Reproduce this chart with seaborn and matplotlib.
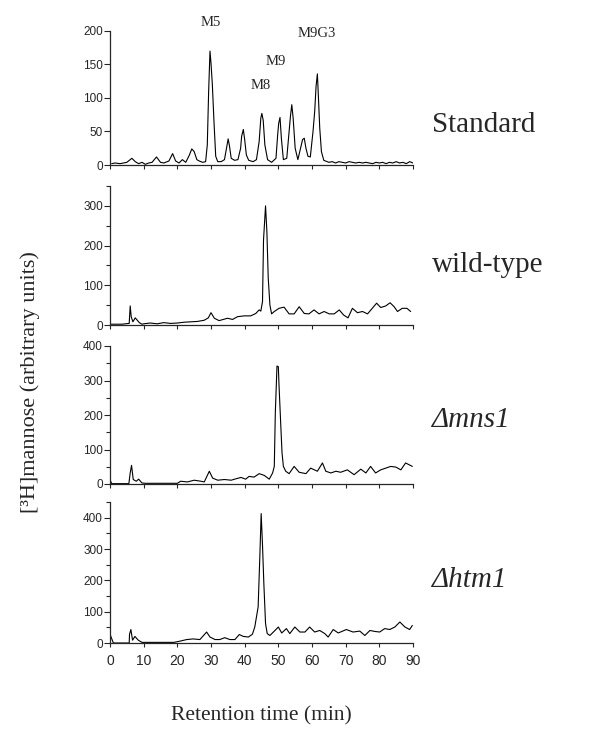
import pandas as pd
import seaborn as sns
import matplotlib.pyplot as plt

# retention time (min) / signal
std_time = [0.5, 1.5, 3, 5, 6.5, 7.5, 8.5, 9.5, 10.5, 11.5, 12.5, 13.8, 15, 16, 17.5, 18.6,
            19.5, 20.5, 21.5, 22.5, 23.5, 24.3, 25, 25.8, 26.5, 27.5, 28.4, 28.9, 29.3, 29.7,
            30.0, 30.4, 30.9, 31.4, 32, 33, 34, 34.6, 35.1, 35.5, 36, 37, 38, 38.8, 39.1, 39.6,
            40, 40.5, 41.2, 42.5, 43.5, 44.3, 44.8, 45.1, 45.5, 46, 46.8, 48, 49.3, 49.8, 50.1,
            50.5, 50.9, 51.5, 52.5, 53.2, 53.6, 54.0, 54.4, 55, 55.8, 56.6, 57.2, 57.7, 58.2,
            58.8, 59.5, 60.3, 60.8, 61.2, 61.6, 61.9, 62.3, 62.8, 63.5, 64, 65, 66, 67, 68, 69,
            70, 71, 72, 73, 74, 75, 76, 77, 78, 79, 80, 81, 82, 83, 84, 85, 86, 87, 88, 89, 90]
std_signal = [2, 3, 2, 4, 10, 5, 2, 4, 1, 3, 4, 12, 4, 3, 6, 17,
              6, 3, 8, 4, 14, 24, 20, 8, 6, 4, 5, 30, 110, 170,
              152, 120, 63, 13, 5, 5, 8, 25, 39, 28, 10, 7, 8, 25, 43, 53,
              38, 15, 7, 5, 8, 35, 70, 77, 67, 30, 8, 4, 10, 45, 62,
              71, 40, 8, 10, 50, 73, 90, 70, 25, 8, 25, 38, 40, 25,
              13, 12, 50, 80, 117, 136, 102, 55, 20, 7, 6, 4, 5, 3, 5, 4,
              3, 5, 4, 3, 4, 3, 4, 3, 2, 4, 3, 4, 2, 4, 3, 5, 3, 4, 2, 5, 3]

wt_time = [0, 0.1, 3.5, 5.7, 6.0, 6.3, 6.8, 7.5, 8.7, 9.5, 10, 12, 14, 16, 18, 20, 22, 24,
           26, 28, 29.2, 30, 31, 32.4, 34.9, 36.4, 37.9, 39.9, 41.8, 43.3, 44.3, 44.8, 45.3,
           45.6, 46.2, 46.6, 47.0, 47.5, 48.0, 48.8, 50.2, 51.7, 53.2, 54.7, 56.2, 57.7, 59.1,
           60.6, 62.1, 63.6, 65.1, 66.6, 68.1, 69.4, 70.7, 72.0, 73.5, 75.0, 76.5, 77.9, 79.2,
           80.4, 81.9, 83.2, 84.4, 85.4, 86.8, 88.2, 89.3]
wt_signal = [174, 2, 2, 4, 48, 21, 8, 18, 6, 2, 3, 5, 3, 6, 4, 5, 7, 8,
             9, 12, 18, 31, 17, 11, 17, 14, 21, 23, 23, 29, 38, 35, 59,
             214, 300, 235, 118, 50, 28, 34, 42, 45, 28, 28, 46, 29, 28,
             38, 28, 34, 28, 28, 38, 25, 18, 42, 31, 34, 28, 42, 55,
             44, 48, 56, 46, 34, 42, 42, 34]

mns_time = [0, 0.5, 5.6, 6.0, 6.4, 6.9, 7.8, 8.5, 9.5, 10.5, 12, 14, 16, 18, 20, 21, 23,
            25, 27, 28, 29.5, 30.5, 32, 34, 36, 37, 38.9, 40.3, 41.3, 42.8, 44.3, 45.8, 47.3,
            48.3, 48.8, 49.1, 49.6, 50.0, 50.2, 50.7, 51.1, 51.5, 52.2, 53.2, 54.7, 56.2, 58.2,
            59.6, 61.6, 63.1, 64.1, 65.6, 67.1, 68.5, 70.5, 72.5, 74.5, 76.0, 77.4, 78.9, 80.4,
            81.9, 83.4, 84.9, 86.4, 87.8, 88.8, 89.8]
mns_signal = [12, 1, 1, 32, 54, 13, 8, 14, 3, 2, 2, 2, 2, 2, 2, 8, 6,
              11, 8, 6, 37, 17, 11, 13, 11, 14, 19, 14, 22, 20, 30, 25, 14,
              32, 51, 205, 342, 340, 287, 176, 90, 51, 37, 30, 51, 34, 30,
              46, 37, 61, 37, 32, 37, 34, 41, 27, 43, 32, 51, 32, 41,
              46, 51, 49, 41, 61, 56, 51]

htm_time = [0, 0.5, 1.0, 5.7, 5.8, 6.2, 6.7, 7.4, 8.4, 9.5, 11, 13, 15, 17, 19, 20.8, 22.8,
            24.7, 26.7, 28.7, 29.7, 31.2, 32.6, 34.1, 35.6, 37.1, 38.4, 39.6, 41.1, 42.3, 43.0,
            44.0, 44.5, 44.9, 45.3, 45.7, 46.2, 46.7, 47.5, 49.0, 50.0, 51.0, 52.4, 53.4, 54.9,
            56.4, 57.9, 59.3, 60.8, 62.3, 63.8, 64.8, 66.3, 67.8, 70.2, 72.2, 74.2, 75.7, 77.2,
            78.6, 80.1, 81.6, 83.1, 84.6, 86.1, 87.6, 89.0, 89.8]
htm_signal = [28, 14, 0, 0, 28, 43, 9, 21, 9, 2, 2, 2, 2, 2, 2, 6, 11,
              13, 11, 35, 19, 11, 11, 17, 11, 11, 27, 21, 19, 28, 51,
              115, 274, 413, 312, 189, 62, 30, 24, 40, 51, 32, 46, 30, 51,
              35, 35, 51, 35, 40, 30, 19, 43, 32, 43, 35, 38, 24, 40,
              37, 35, 46, 43, 51, 67, 51, 43, 56]

panel_names = ["Standard", "wild-type", "\u0394mns1", "\u0394htm1"]
peak_labels = ["M5", "M8", "M9", "M9G3"]

sns.set_style("ticks")
plt.rcParams['font.family'] = ['Liberation Serif', 'DejaVu Serif']
plt.rcParams['axes.linewidth'] = 0.9

fig = plt.figure(figsize=(5.93, 7.37), dpi=100)

# axes boxes in pixels: (bottom px, top px, y max, major, minor)
boxes = [(165, 31, 200, 50, None),
         (325, 186, 350, 100, 50),
         (484, 346, 400, 100, 50),
         (643, 502, 450, 100, 50)]
traces = [(std_time, std_signal), (wt_time, wt_signal),
          (mns_time, mns_signal), (htm_time, htm_signal)]

axes = []
for i, ((bot, top, ymax, major, minor), (t, s)) in enumerate(zip(boxes, traces)):
    ax = fig.add_axes([110 / 593, 1 - bot / 737, 303 / 593, (bot - top) / 737])
    df = pd.DataFrame({"time": t, "signal": s})
    sns.lineplot(data=df, x="time", y="signal", ax=ax, color="black",
                 linewidth=0.8, estimator=None)
    ax.set_xlim(0, 90)
    ax.set_ylim(0, ymax)
    ax.set_xticks(range(0, 91, 10))
    yt = list(range(0, ymax + 1, major))
    if ymax == 450:
        yt = list(range(0, 401, major))
    ax.set_yticks(yt)
    if minor:
        ax.set_yticks(list(range(0, ymax + 1, minor)), minor=True)
    ax.tick_params(axis="y", direction="out", length=4, width=0.8, labelsize=8.5, pad=1)
    ax.tick_params(axis="y", which="minor", length=3, width=0.8)
    ax.tick_params(axis="x", direction="out", length=3, width=0.8, labelsize=10, pad=5)
    for lab in ax.get_yticklabels() + ax.get_xticklabels():
        lab.set_family("Liberation Sans")
    if i < 3:
        ax.set_xticklabels([])
    ax.set_xlabel("")
    ax.set_ylabel("")
    sns.despine(ax=ax)
    ax.spines["left"].set_bounds(0, ymax)
    axes.append(ax)

# peak labels on the standard trace
top_ax = axes[0]
for lab, (x, y) in zip(peak_labels, [(30, 213), (44.7, 118), (49.3, 155), (61.5, 196)]):
    top_ax.text(x, y, lab, ha="center", va="center", fontsize=10.5, clip_on=False)

# sample names on the right
fig.text(432 / 593, 1 - 125 / 737, panel_names[0], fontsize=21, va="center", ha="left")
fig.text(432 / 593, 1 - 265 / 737, panel_names[1], fontsize=21, va="center", ha="left")
fig.text(432 / 593, 1 - 420 / 737, panel_names[2], fontsize=21, va="center", ha="left",
         style="italic")
fig.text(432 / 593, 1 - 580 / 737, panel_names[3], fontsize=21, va="center", ha="left",
         style="italic")

fig.text(30 / 593, 1 - 382 / 737, "[\u00b3H]mannose (arbitrary units)", rotation=90,
         fontsize=16, va="center", ha="center")
fig.text(261 / 593, 1 - 716 / 737, "Retention time (min)", fontsize=15.5,
         va="center", ha="center")

fig.savefig("out.png", dpi=100, facecolor="white")
